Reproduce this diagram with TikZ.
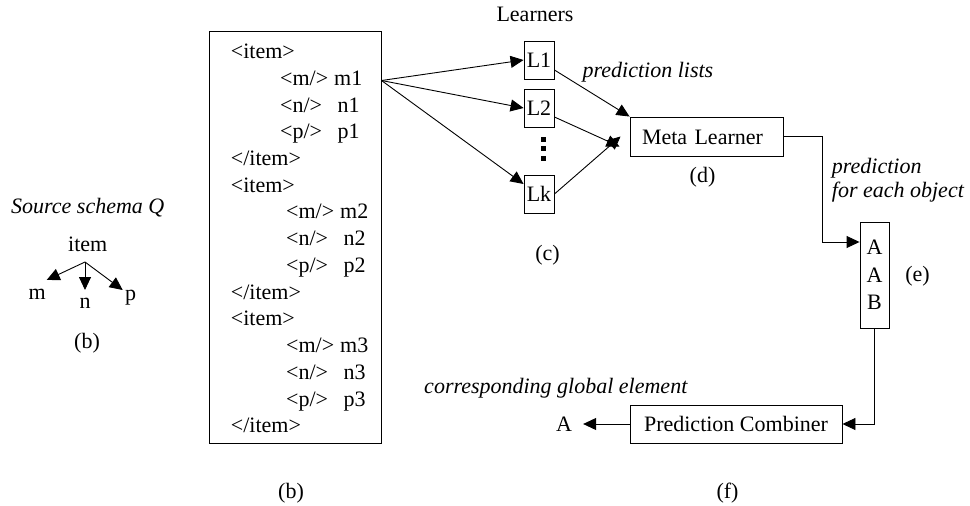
\documentclass[tikz,border=0pt]{standalone}
\usepackage{fontspec}
\setmainfont{Liberation Serif}
\usetikzlibrary{arrows.meta,calc}
\begin{document}
\begin{tikzpicture}[x=1pt,y=-1pt,
  every node/.style={font=\fontsize{22}{24}\selectfont, inner sep=0pt},
  txt/.style={text height=15pt, text depth=5pt},
  xml/.style={txt, anchor=west},
  lab/.style={font=\fontsize{22}{24}\selectfont\itshape},
  box/.style={draw, line width=0.9pt, text height=15pt, text depth=0pt},
  arr/.style={line width=0.9pt, -{Triangle[length=13pt,width=12pt]}},
  ln/.style={line width=0.9pt}]
\useasboundingbox (0,0) rectangle (970,506);

% ---------- source schema tree (left) ----------
\node[lab, txt] (srclbl) at (87.8,208.3) {Source schema Q};
\node[txt] (item) at (87.8,246.7) {item};
\coordinate (root) at (85,262);
\coordinate (mtip) at (46.7,280);
\coordinate (ntip) at (85,290);
\coordinate (ptip) at (122.7,290);
\node[txt] (mlbl) at (37.3,294.5) {m};
\node[txt] (nlbl) at (85,303) {n};
\node[txt] (plbl) at (130.7,295) {p};
\draw[arr] (root) -- (mtip);
\draw[arr] (root) -- (ntip);
\draw[arr] (root) -- (ptip);
\node[txt] (blbl1) at (87,343) {(b)};

% ---------- XML data box ----------
\node[draw, line width=0.9pt, minimum width=172.5pt, minimum height=412.5pt] (xmlbox) at (295.25,237.25) {};
\node[xml] (x0)  at (230.7,53.5)  {\textless item\textgreater};
\node[xml] (x1)  at (280,80.2)    {\makebox[54pt][l]{\textless m/\textgreater}m1};
\node[xml] (x2)  at (280,107.0)   {\makebox[57.5pt][l]{\textless n/\textgreater}n1};
\node[xml] (x3)  at (280,133.7)   {\makebox[57.5pt][l]{\textless p/\textgreater}p1};
\node[xml] (x4)  at (230.7,160.5) {\textless /item\textgreater};
\node[xml] (x5)  at (230.7,187.2) {\textless item\textgreater};
\node[xml] (x6)  at (286,213.9)   {\makebox[54pt][l]{\textless m/\textgreater}m2};
\node[xml] (x7)  at (286,240.7)   {\makebox[57.5pt][l]{\textless n/\textgreater}n2};
\node[xml] (x8)  at (286,267.4)   {\makebox[57.5pt][l]{\textless p/\textgreater}p2};
\node[xml] (x9)  at (230.7,294.2) {\textless /item\textgreater};
\node[xml] (x10) at (230.7,320.9) {\textless item\textgreater};
\node[xml] (x11) at (286,347.6)   {\makebox[54pt][l]{\textless m/\textgreater}m3};
\node[xml] (x12) at (286,374.4)   {\makebox[57.5pt][l]{\textless n/\textgreater}n3};
\node[xml] (x13) at (286,401.1)   {\makebox[57.5pt][l]{\textless p/\textgreater}p3};
\node[xml] (x14) at (230.7,427.9) {\textless /item\textgreater};
\node[txt] (blbl2) at (291,493) {(b)};
\coordinate (src) at (381.5,80.5);

% ---------- learners ----------
\node[txt] (learners) at (535,16.5) {Learners};
\node[box, minimum width=30pt, minimum height=38pt] (L1) at (539,60) {L1};
\node[box, minimum width=30pt, minimum height=38pt] (L2) at (539,108) {L2};
\node[box, minimum width=30pt, minimum height=38pt] (Lk) at (539,194) {Lk};
\fill (540.5,136.5) rectangle ++(5.5,5);
\fill (540.5,146) rectangle ++(5.5,5);
\fill (540.5,155.5) rectangle ++(5.5,5);
\node[txt] (clbl) at (547.5,255) {(c)};

\draw[arr] (src) -- (L1.west);
\draw[arr] (src) -- (L2.west);
\draw[arr] (src) -- ([yshift=10pt]Lk.west);

% ---------- meta learner ----------
\node[box, minimum width=153pt, minimum height=39pt, text width=129pt, align=left, inner xsep=12pt] (meta) at (706.5,136.5) {Meta Learner};
\node[txt] (dlbl) at (702.5,177) {(d)};
\node[lab, txt] (plists) at (648,72.5) {prediction lists};
\draw[arr] ([yshift=-10pt]L1.east) -- (meta.north west);
\draw[arr] ([yshift=-9pt]L2.east) -- ([xshift=-10pt,yshift=-10pt]meta.west);
\draw[arr] (Lk.east) -- ([xshift=-9pt]meta.west);

% ---------- per-object predictions ----------
\node[draw, line width=0.9pt, minimum width=29pt, minimum height=106pt, align=center,
      font=\fontsize{22}{27.5}\selectfont] (aab) at (874.5,275) {A\\A\\B};
\node[txt] (elbl) at (917.5,276) {(e)};
\node[lab, anchor=north west, align=left] (predlbl) at (831.7,158.3) {prediction\\for each object};
\draw[arr] (meta.east) -- ++(39,0) |- ([yshift=33pt]aab.west);

% ---------- prediction combiner ----------
\node[box, minimum width=212pt, minimum height=38pt] (pc) at (736,424) {Prediction Combiner};
\node[txt, text height=15pt, text depth=0pt, inner xsep=11pt] (alab) at (564,424) {A};
\node[lab, txt] (corr) at (555.8,388.3) {corresponding global element};
\node[txt] (flbl) at (727.5,493) {(f)};
\draw[arr] (aab.south) |- (pc.east);
\draw[arr] (pc.west) -- (alab.east);
\end{tikzpicture}
\end{document}
